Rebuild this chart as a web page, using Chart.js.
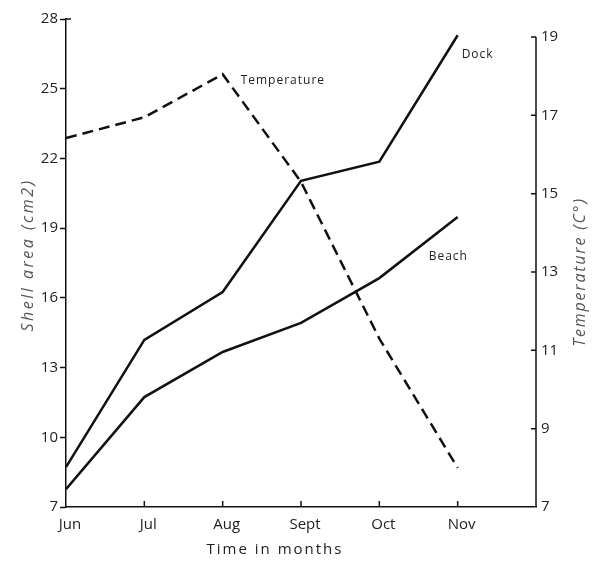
<!DOCTYPE html>
<html>
<head>
<meta charset="utf-8">
<script src="https://cdn.jsdelivr.net/npm/chart.js@4/dist/chart.umd.min.js"></script>
<style>
  html, body { margin: 0; padding: 0; background: #fff; }
  canvas { display: block; }
</style>
</head>
<body>
<canvas id="shellChart" width="595" height="565"></canvas>
<script>
// Months along the x axis (one empty slot after Nov)
const months = ['Jun', 'Jul', 'Aug', 'Sept', 'Oct', 'Nov'];

// Shell area, cm2
const dockArea = [8.72, 14.19, 16.25, 21.04, 21.86, 27.3];
const beachArea = [7.77, 11.73, 13.67, 14.92, 16.85, 19.48];

// Water temperature, C
const temperature = [16.42, 16.95, 18.05, 15.3, 11.3, 8.0];

const areaTicks = [7, 10, 13, 16, 19, 22, 25, 28];
const tempTicks = [7, 9, 11, 13, 15, 17, 19];

const INK = '#111';
const FONT = '"Open Sans", "DejaVu Sans", sans-serif';

const toPoints = arr => arr.map((v, i) => ({ x: i, y: v }));

function rotatedText(ctx, text, cx, cy) {
  ctx.save();
  ctx.translate(cx, cy);
  ctx.rotate(-Math.PI / 2);
  ctx.fillText(text, 0, 0);
  ctx.restore();
}

// axis bits Chart.js can't draw the way we want: inward ticks,
// a shortened right axis, series captions and spaced-out titles
const axisDecor = {
  id: 'axisDecor',
  afterDraw(chart) {
    const { ctx, chartArea, scales } = chart;
    const x = scales.x, y = scales.y, yTemp = scales.yTemp;
    ctx.save();
    ctx.strokeStyle = INK;
    ctx.lineWidth = 1.5;
    ctx.beginPath();
    const rx = yTemp.left;
    ctx.moveTo(rx, yTemp.getPixelForValue(tempTicks[0]));
    ctx.lineTo(rx, yTemp.getPixelForValue(tempTicks[tempTicks.length - 1]));
    tempTicks.slice(1).forEach(v => {
      const py = yTemp.getPixelForValue(v);
      ctx.moveTo(rx, py);
      ctx.lineTo(rx - 5, py);
    });
    months.forEach((m, i) => {
      if (i === 0) return;
      const px = x.getPixelForValue(i);
      ctx.moveTo(px, chartArea.bottom);
      ctx.lineTo(px, chartArea.bottom - 6);
    });
    ctx.moveTo(chartArea.left, chartArea.top);
    ctx.lineTo(chartArea.left + 5, chartArea.top);
    ctx.stroke();

    // series captions next to their lines
    ctx.fillStyle = '#222';
    ctx.font = '12px ' + FONT;
    ctx.letterSpacing = '1px';
    ctx.textBaseline = 'middle';
    ctx.textAlign = 'left';
    const dockEnd = chart.getDatasetMeta(0).data[5];
    const beachEnd = chart.getDatasetMeta(1).data[5];
    const tempPeak = chart.getDatasetMeta(2).data[2];
    ctx.fillText('Dock', dockEnd.x + 4, dockEnd.y + 19);
    ctx.fillText('Beach', beachEnd.x - 29, beachEnd.y + 40);
    ctx.fillText('Temperature', tempPeak.x + 18, tempPeak.y + 6);

    // bottom title
    ctx.font = '15px ' + FONT;
    ctx.letterSpacing = '2px';
    ctx.textAlign = 'center';
    ctx.fillText('Time in months', (chartArea.left + chartArea.right) / 2 - 26, chartArea.bottom + 43);

    // side titles, both read bottom to top
    ctx.fillStyle = '#555';
    ctx.font = 'italic 16px ' + FONT;
    ctx.letterSpacing = '2.5px';
    rotatedText(ctx, 'Shell area (cm2)', y.left + 28, (chartArea.top + chartArea.bottom) / 2 - 8);
    ctx.letterSpacing = '1.8px';
    const midY = (yTemp.getPixelForValue(tempTicks[0]) + yTemp.getPixelForValue(tempTicks[tempTicks.length - 1])) / 2;
    rotatedText(ctx, 'Temperature (C°)', yTemp.right - 15, midY);
    ctx.restore();
  }
};

new Chart(document.getElementById('shellChart'), {
  type: 'line',
  data: {
    datasets: [
      {
        label: 'Dock',
        data: toPoints(dockArea),
        yAxisID: 'y',
        borderColor: INK,
        borderWidth: 2.5,
        pointRadius: 0,
        tension: 0
      },
      {
        label: 'Beach',
        data: toPoints(beachArea),
        yAxisID: 'y',
        borderColor: INK,
        borderWidth: 2.5,
        pointRadius: 0,
        tension: 0
      },
      {
        label: 'Temperature',
        data: toPoints(temperature),
        yAxisID: 'yTemp',
        borderColor: INK,
        borderWidth: 2.5,
        borderDash: [11, 6],
        pointRadius: 0,
        tension: 0
      }
    ]
  },
  options: {
    responsive: false,
    animation: false,
    layout: { padding: { top: 19, left: 0, right: 0, bottom: 0 } },
    plugins: {
      legend: { display: false },
      tooltip: { enabled: false }
    },
    scales: {
      x: {
        type: 'linear',
        min: 0,
        max: 6,
        afterBuildTicks: s => { s.ticks = months.map((m, i) => ({ value: i })); },
        afterFit: s => { s.height = 58; },
        grid: { display: false, drawTicks: false },
        border: { display: true, color: INK, width: 1.5 },
        ticks: {
          callback: v => months[v] ?? '',
          color: '#222',
          font: { family: FONT, size: 15 },
          padding: 9,
          labelOffset: 4,
          maxRotation: 0,
          autoSkip: false
        }
      },
      y: {
        position: 'left',
        min: 7,
        max: 28,
        afterBuildTicks: s => { s.ticks = areaTicks.map(v => ({ value: v })); },
        afterFit: s => { s.width = 66; },
        grid: { drawOnChartArea: false, tickLength: 6, tickColor: INK, tickWidth: 1.5 },
        border: { display: true, color: INK, width: 1.5 },
        ticks: {
          color: '#222',
          font: { family: FONT, size: 15 },
          padding: 2
        }
      },
      yTemp: {
        position: 'right',
        min: 7,
        max: 19.46,
        afterBuildTicks: s => { s.ticks = tempTicks.map(v => ({ value: v })); },
        afterFit: s => { s.width = 59; },
        grid: { display: false, drawTicks: false },
        border: { display: false },
        ticks: {
          color: '#222',
          font: { family: FONT, size: 15 },
          padding: 5
        }
      }
    }
  },
  plugins: [axisDecor]
});
</script>
</body>
</html>
